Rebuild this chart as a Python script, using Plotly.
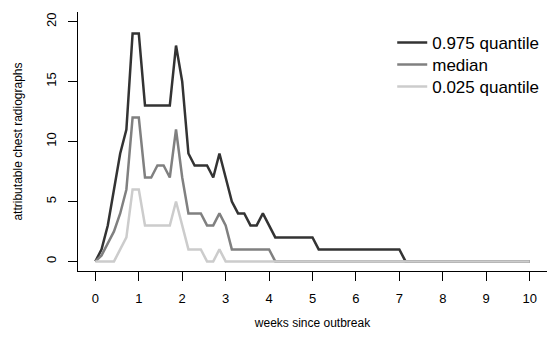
import plotly.graph_objects as go

days = list(range(71))
weeks = [d / 7 for d in days]

q975 = [0, 1, 3, 6, 9, 11, 19, 19, 13, 13, 13, 13, 13, 18, 15, 9, 8, 8, 8, 7,
        9, 7, 5, 4, 4, 3, 3, 4, 3, 2, 2, 2, 2, 2, 2, 2, 1, 1, 1, 1,
        1, 1, 1, 1, 1, 1, 1, 1, 1, 1, 0, 0, 0, 0, 0, 0, 0, 0, 0, 0,
        0, 0, 0, 0, 0, 0, 0, 0, 0, 0, 0]
median = [0, 0.5, 1.5, 2.5, 4, 6, 12, 12, 7, 7, 8, 8, 7, 11, 7, 4, 4, 4, 3, 3,
          4, 3, 1, 1, 1, 1, 1, 1, 1, 0] + [0] * 41
q025 = [0, 0, 0, 0, 1, 2, 6, 6, 3, 3, 3, 3, 3, 5, 3, 1, 1, 1, 0, 0,
        1, 0] + [0] * 49

series_names = ["0.975 quantile", "median", "0.025 quantile"]
series_values = [q975, median, q025]
series_colors = ["#333333", "#808080", "#cccccc"]
legend_ids = ["legend", "legend2", "legend3"]
legend_rows = [0.8803, 0.7954, 0.7104]

fig = go.Figure()
for name, vals, col, lid in zip(series_names, series_values, series_colors, legend_ids):
    fig.add_trace(go.Scatter(x=weeks, y=vals, mode="lines", name=name,
                             legend=lid, line=dict(color=col, width=2.5)))

font = dict(family="Liberation Sans, Arial, sans-serif", size=12, color="#000000")

legend_common = dict(x=0.67, xanchor="left", yanchor="middle",
                     bgcolor="rgba(0,0,0,0)", font=dict(size=17),
                     itemwidth=30, borderwidth=0)

fig.update_layout(
    width=549, height=339,
    margin=dict(l=78, r=2, t=12, b=68),
    plot_bgcolor="white", paper_bgcolor="white",
    font=font,
    showlegend=True,
    legend=dict(y=legend_rows[0], **legend_common),
    legend2=dict(y=legend_rows[1], **legend_common),
    legend3=dict(y=legend_rows[2], **legend_common),
    xaxis=dict(range=[-0.4, 10.4], tickvals=list(range(11)),
               showgrid=False, zeroline=False, showline=True,
               linecolor="black", linewidth=1, ticks="outside",
               ticklen=9, tickcolor="black", tickfont=dict(size=13),
               ticklabelstandoff=6,
               title=dict(text="weeks since outbreak", standoff=14,
                          font=dict(size=12))),
    yaxis=dict(range=[-0.8, 20.8], tickvals=[0, 5, 10, 15, 20],
               showgrid=False, zeroline=False, showline=True,
               linecolor="black", linewidth=1, ticks="outside",
               ticklen=9, tickcolor="black", tickangle=-90,
               tickfont=dict(size=13), ticklabelstandoff=7,
               title=dict(text="attributable chest radiographs", standoff=18,
                          font=dict(size=12))),
)

fig.write_html("out.html")
